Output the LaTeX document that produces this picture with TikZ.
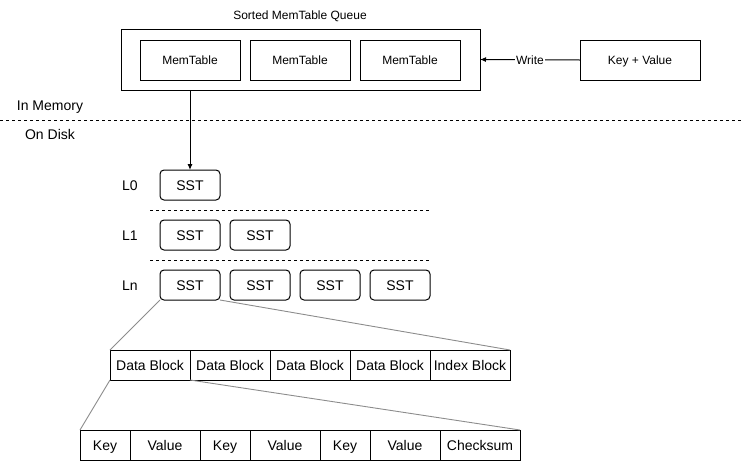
\documentclass[tikz,border=0pt]{standalone}
\usepackage{fontspec}
\setmainfont{Liberation Sans}
\usetikzlibrary{arrows.meta,positioning}
\definecolor{linkgray}{RGB}{140,140,140}

\begin{document}
\begin{tikzpicture}[x=1pt,y=-1pt,
    every node/.style={outer sep=0pt},
    small/.style={font=\fontsize{12}{14}\selectfont, text height=9.1pt, text depth=0.5pt},
    big/.style={font=\fontsize{14}{16}\selectfont, text height=11pt, text depth=0.5pt},
    memtable/.style={draw, line width=1pt, minimum width=100pt, minimum height=40pt, inner sep=0pt, small},
    sst/.style={draw, line width=1pt, rounded corners=4pt, minimum width=60pt, minimum height=30pt, inner sep=0pt, big},
    cell/.style={draw, line width=1pt, minimum height=30pt, inner sep=0pt, big},
    lbl/.style={big},
    divider/.style={line width=1pt, dash pattern=on 3pt off 3pt},
    zoomline/.style={draw=linkgray, line width=0.9pt}]
    \useasboundingbox (0,0) rectangle (742,461);

    % memory side
    \node[draw, line width=1pt, minimum width=359pt, minimum height=61pt] (queue) at (300.5,59.5) {};
    \node[small] (title) at (300,15) {Sorted MemTable Queue};
    \node[memtable] (mt1) at (190,60) {MemTable};
    \node[memtable, right=10pt of mt1] (mt2) {MemTable};
    \node[memtable, right=10pt of mt2] (mt3) {MemTable};
    \node[memtable, minimum width=120pt] (kv) at (640,60) {Key + Value};
    \draw[line width=1pt, -{Latex[length=6pt,width=5pt]}] (kv.west) -- node[fill=white, inner sep=1pt, small] {Write} (queue.east);

    % memory / disk border
    \draw[divider] (0,120) -- (742,120);
    \node[lbl] (inmem) at (50,105) {In Memory};
    \node[lbl] (ondisk) at (50,134) {On Disk};

    % levels
    \node[lbl] (l0lbl) at (130,185) {L0};
    \node[lbl] (l1lbl) at (130,235) {L1};
    \node[lbl] (lnlbl) at (130,285) {Ln};
    \node[sst] (l0a) at (190,185) {SST};
    \node[sst] (l1a) at (190,235) {SST};
    \node[sst, right=10pt of l1a] (l1b) {SST};
    \node[sst] (lna) at (190,285) {SST};
    \node[sst, right=10pt of lna] (lnb) {SST};
    \node[sst, right=10pt of lnb] (lnc) {SST};
    \node[sst, right=10pt of lnc] (lnd) {SST};
    \draw[divider] (150,210) -- (430,210);
    \draw[divider] (150,260) -- (430,260);
    \draw[line width=1pt, -{Latex[length=6pt,width=5pt]}] (l0a.north |- queue.south) -- (l0a.north);

    % blocks of one SST
    \node[cell, minimum width=80pt] (db1) at (150,365) {Data Block};
    \node[cell, minimum width=80pt, right=0pt of db1] (db2) {Data Block};
    \node[cell, minimum width=80pt, right=0pt of db2] (db3) {Data Block};
    \node[cell, minimum width=80pt, right=0pt of db3] (db4) {Data Block};
    \node[cell, minimum width=80pt, right=0pt of db4] (ib) {Index Block};
    \draw[zoomline] (lna.south west) -- (db1.north west);
    \draw[zoomline] (lna.south east) -- (ib.north east);

    % entries of one data block
    \node[cell, minimum width=50pt] (k1) at (105,445) {Key};
    \node[cell, minimum width=70pt, right=0pt of k1] (v1) {Value};
    \node[cell, minimum width=50pt, right=0pt of v1] (k2) {Key};
    \node[cell, minimum width=70pt, right=0pt of k2] (v2) {Value};
    \node[cell, minimum width=50pt, right=0pt of v2] (k3) {Key};
    \node[cell, minimum width=70pt, right=0pt of k3] (v3) {Value};
    \node[cell, minimum width=80pt, right=0pt of v3] (cs) {Checksum};
    \draw[zoomline] (db1.south west) -- (k1.north west);
    \draw[zoomline] (db1.south east) -- (cs.north east);
\end{tikzpicture}
\end{document}
